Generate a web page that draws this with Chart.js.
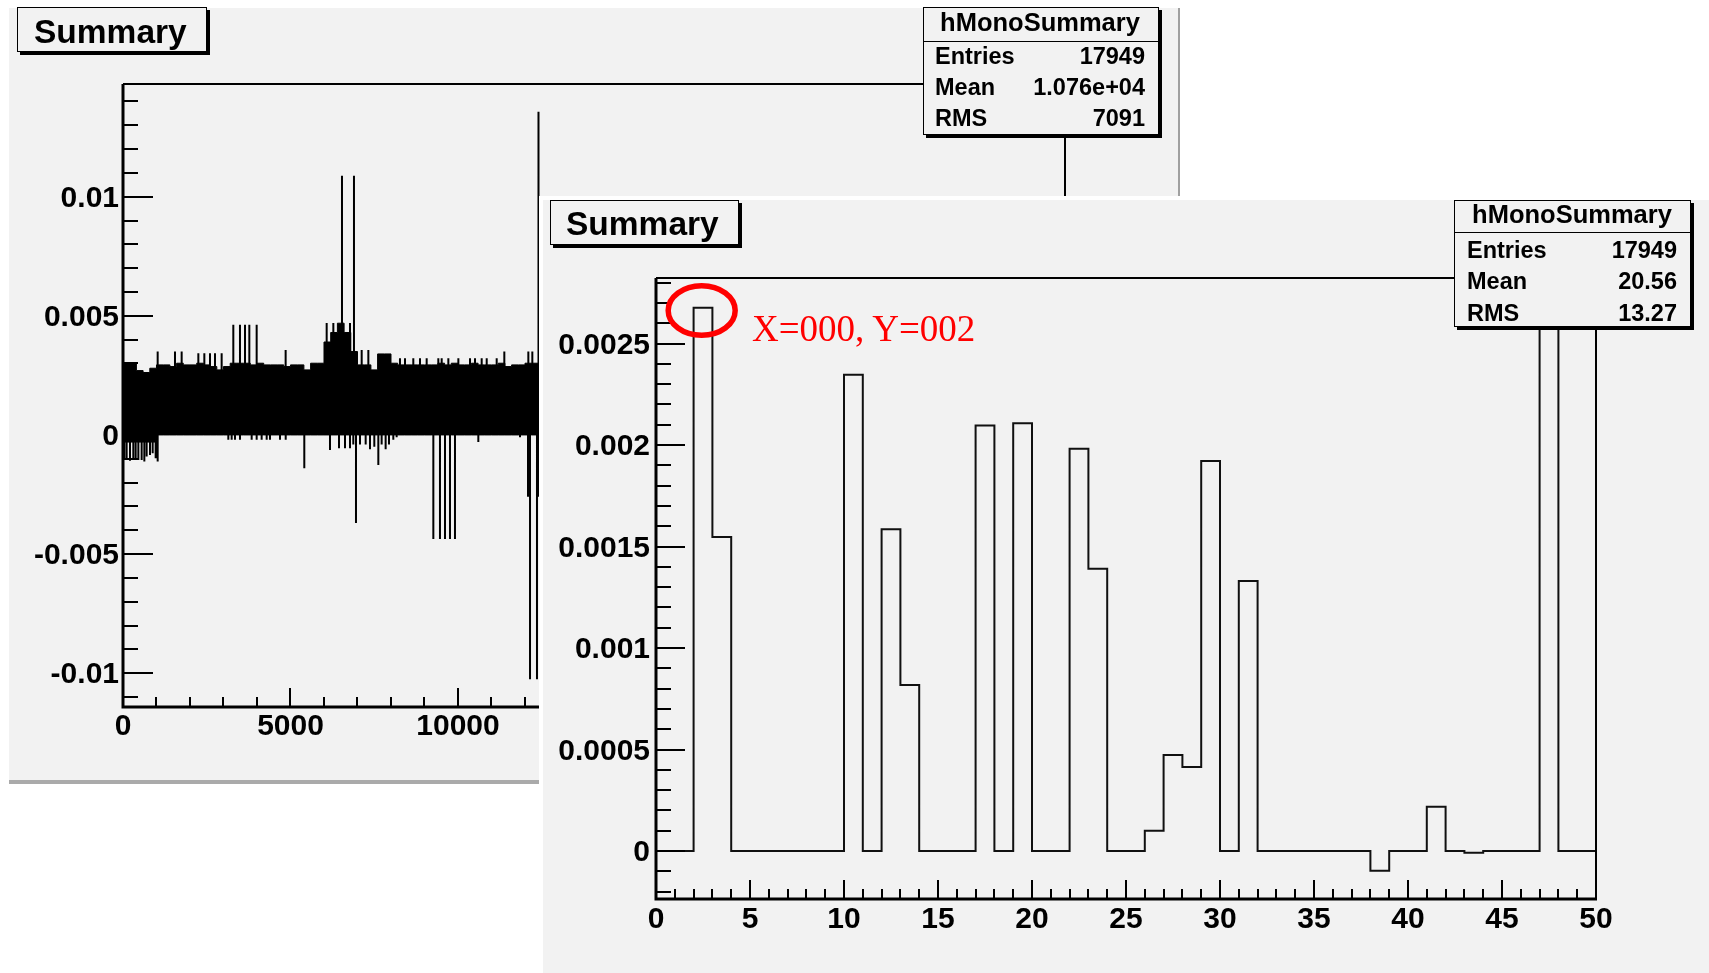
<!DOCTYPE html>
<html>
<head>
<meta charset="utf-8">
<script src="https://cdn.jsdelivr.net/npm/chart.js@4.4.1/dist/chart.umd.min.js"></script>
<style>
html,body{margin:0;padding:0;background:#fff;width:1709px;height:973px;overflow:hidden;}
#page{position:relative;width:1709px;height:973px;}
.pad{position:absolute;background:#f2f2f2;}
.pad canvas{display:block;}
.box{position:absolute;box-sizing:border-box;border:1.5px solid #000;background:#f2f2f2;box-shadow:3px 3px 0 #000;}
.sep{position:absolute;left:0;right:0;height:1.5px;background:#000;}
.t{position:absolute;white-space:nowrap;line-height:1;font-family:"Liberation Sans",Arial,Helvetica,sans-serif;font-weight:bold;color:#000;}
</style>
</head>
<body>
<div id="page">
  <div class="pad" style="left:9px;top:8px;width:1169px;height:772px;border-right:2px solid #a0a0a0;border-bottom:4px solid #aaaaaa;">
    <canvas id="back" width="1169" height="772"></canvas>
  </div>
  <div style="position:absolute;left:539px;top:196px;width:1170px;height:777px;background:#fff;"></div>
  <div class="pad" style="left:543px;top:200px;width:1166px;height:773px;">
    <canvas id="front" width="1166" height="773"></canvas>
  </div>
</div>
<script>
// ================= DATA =================
// --- back panel: hMonoSummary vs channel (dense band, read as an envelope) ---
const backBinWidth = 200;
const backBandTop = [
  0.00301,0.00301,0.00270,0.00262,0.00280,0.00294,0.00294,0.00287,0.00301,0.00294,
  0.00294,0.00301,0.00294,0.00287,0.00273,0.00287,0.00301,0.00301,0.00301,0.00294,
  0.00301,0.00294,0.00294,0.00294,0.00287,0.00294,0.00294,0.00273,0.00301,0.00301,
  0.00390,0.00430,0.00469,0.00430,0.00350,0.00294,0.00294,0.00273,0.00340,0.00340,
  0.00301,0.00294,0.00294,0.00294,0.00294,0.00294,0.00294,0.00301,0.00294,0.00301,
  0.00294,0.00294,0.00301,0.00294,0.00294,0.00294,0.00301,0.00287,0.00294,0.00294,
  0.00301,0.00301
];
const backBandBottom = [
  -0.0003,-0.0003,-0.0003,-0.0003,-0.0003,0,0,0,0,0,
  0,0,0,0,0,0,0,0,0,0,
  0,0,0,0,0,0,0,0,0,0,
  0,0,0,0,0,0,0,0,0,0,
  0,0,0,0,0,0,0,0,0,0,
  0,0,0,0,0,0,0,0,0,0,
  0,0
];
// single-channel spikes (channel, value)
const backSpikeX = [
  1035,1552,1751,2249,2428,2597,2746,2945,4855,7125,7324,11383,12100,12219,
  8268,8418,8666,8866,9065,9413,9513,9712,10011,10359,10508,10707,10857,11155,
  6080,6279,6776,
  3293,3492,3642,3771,3990,6537,6895,12403,
  40,109,209,308,378,458,557,637,706,806,886,975,1035,
  3144,3244,3343,3492,3841,3990,4139,4289,4388,4687,4857,
  5412,
  6179,6448,6627,6776,6875,6955,
  7075,7244,7373,7502,7622,7721,7840,7940,8069,8169,
  9264,9462,9612,9761,9910,
  10607,11851,
  12090,12150,12358,12400
];
const backSpikeY = [
  0.0035,0.0035,0.0035,0.00343,0.00343,0.00343,0.00343,0.00343,0.00357,0.00357,0.00357,0.0035,0.0035,0.0035,
  0.00322,0.00322,0.00322,0.00322,0.00322,0.00322,0.00322,0.00322,0.00322,0.00322,0.00322,0.00322,0.00322,0.00322,
  0.0047,0.0047,0.0047,
  0.00462,0.00462,0.00462,0.00462,0.00462,0.01088,0.01088,0.01357,
  -0.00105,-0.00105,-0.00108,-0.00105,-0.00098,-0.00105,-0.00105,-0.00112,-0.00091,-0.00084,-0.00077,-0.00098,-0.00112,
  -0.0002,-0.0002,-0.0002,-0.0002,-0.0002,-0.0002,-0.0002,-0.0002,-0.0002,-0.0002,-0.0002,
  -0.0014,
  -0.00063,-0.00056,-0.00056,-0.00056,-0.0004,-0.0037,
  -0.0004,-0.0004,-0.0006,-0.0005,-0.00126,-0.0004,-0.0006,-0.0004,-0.0002,-0.0001,
  -0.00437,-0.00437,-0.00437,-0.00437,-0.00437,
  -0.0003,-0.0001,
  -0.0026,-0.01025,-0.01025,-0.0026
];
const backXRange = [0, 28120];
const backYRange = [-0.01142, 0.01473];
const backXTicks = [0, 5000, 10000];
const backXTickLabels = ['0', '5000', '10000'];
const backYTicks = [-0.01, -0.005, 0, 0.005, 0.01];
const backYTickLabels = ['-0.01', '-0.005', '0', '0.005', '0.01'];

// --- front panel: hMonoSummary, 50 bins 0..50 ---
const frontBins = [0,1,2,3,4,5,6,7,8,9,10,11,12,13,14,15,16,17,18,19,20,21,22,23,24,
                   25,26,27,28,29,30,31,32,33,34,35,36,37,38,39,40,41,42,43,44,45,46,47,48,49];
const frontValues = [
  0, 0, 0.002677, 0.001547, 0, 0, 0, 0, 0, 0,
  0.002347, 0, 0.001585, 0.000818, 0, 0, 0, 0.002097, 0, 0.002108,
  0, 0, 0.001982, 0.001391, 0, 0, 0.0001, 0.000473, 0.000414, 0.001921,
  0, 0.00133, 0, 0, 0, 0, 0, 0, -0.0000967, 0,
  0, 0.000218, 0, -0.0000083, 0, 0, 0, 0.0045, 0, 0
];
const frontXRange = [0, 50];
const frontYRange = [-0.000236, 0.002823];
const frontXTicks = [0,5,10,15,20,25,30,35,40,45,50];
const frontXTickLabels = ['0','5','10','15','20','25','30','35','40','45','50'];
const frontYTicks = [0, 0.0005, 0.001, 0.0015, 0.002, 0.0025];
const frontYTickLabels = ['0','0.0005','0.001','0.0015','0.002','0.0025'];

// --- texts ---
const titleText = 'Summary';
const statsTitle = 'hMonoSummary';
const statsLabels = ['Entries', 'Mean', 'RMS'];
const backStatsValues = ['17949', '1.076e+04', '7091'];
const frontStatsValues = ['17949', '20.56', '13.27'];
const annotationText = 'X=000, Y=002';
const annotationPoint = {x: 2.43, y: 0.002663};

// ================= HELPERS =================
const FONT = '"Liberation Sans", Arial, Helvetica, sans-serif';

function rootAxes(cfg) {
  return {
    id: 'rootAxes',
    afterDatasetsDraw(chart) {
      const {ctx, chartArea: a, scales: {x, y}} = chart;
      ctx.save();
      ctx.strokeStyle = '#000';
      ctx.lineCap = 'butt';
      ctx.lineWidth = 2;
      ctx.beginPath();
      ctx.moveTo(a.left, a.top); ctx.lineTo(a.right, a.top); ctx.lineTo(a.right, a.bottom);
      ctx.stroke();
      const isMult = (v, s) => Math.abs(v / s - Math.round(v / s)) < 1e-6;
      ctx.lineWidth = 2;
      ctx.beginPath();
      let i0 = Math.ceil(y.min / cfg.yMinor - 1e-9), i1 = Math.floor(y.max / cfg.yMinor + 1e-9);
      for (let i = i0; i <= i1; i++) {
        const v = i * cfg.yMinor;
        const p = Math.round(y.getPixelForValue(v));
        const len = isMult(v, cfg.yMajor) ? cfg.yMajorLen : cfg.yMinorLen;
        ctx.moveTo(a.left, p); ctx.lineTo(a.left + len, p);
      }
      i0 = Math.ceil(x.min / cfg.xMinor - 1e-9); i1 = Math.floor(x.max / cfg.xMinor + 1e-9);
      for (let i = i0; i <= i1; i++) {
        const v = i * cfg.xMinor;
        const p = Math.round(x.getPixelForValue(v));
        const len = isMult(v, cfg.xMajor) ? cfg.xMajorLen : cfg.xMinorLen;
        ctx.moveTo(p, a.bottom); ctx.lineTo(p, a.bottom - len);
      }
      ctx.stroke();
      ctx.lineWidth = 3;
      ctx.beginPath();
      ctx.moveTo(a.left, a.top); ctx.lineTo(a.left, a.bottom + 1.5);
      ctx.moveTo(a.left - 1.5, a.bottom); ctx.lineTo(a.right + 1, a.bottom);
      ctx.stroke();
      ctx.restore();
    }
  };
}

function scaleOpts(range, ticks, labels, fitProp, fitVal, pad, offset) {
  return {
    type: 'linear', min: range[0], max: range[1],
    afterBuildTicks: s => { s.ticks = ticks.map(v => ({value: v})); },
    afterFit: s => { s[fitProp] = fitVal; },
    grid: {display: false, drawTicks: false},
    border: {display: false},
    ticks: {
      autoSkip: false, maxRotation: 0, minRotation: 0, padding: pad, labelOffset: offset || 0,
      color: '#000', font: {family: FONT, size: 30, weight: 'bold'},
      callback: (v, i) => labels[i]
    }
  };
}

// ================= BACK CHART =================
const bandTopPts = backBandTop.map((v, k) => ({x: k * backBinWidth, y: v}));
bandTopPts.push({x: backBandTop.length * backBinWidth, y: backBandTop[backBandTop.length - 1]});
const bandBotPts = backBandBottom.map((v, k) => ({x: k * backBinWidth, y: v}));
bandBotPts.push({x: backBandBottom.length * backBinWidth, y: backBandBottom[backBandBottom.length - 1]});
const spikeOrder = backSpikeX.map((x, i) => i).sort((a, b) => backSpikeX[a] - backSpikeX[b]);
const spikePts = [];
spikeOrder.forEach(i => {
  spikePts.push({x: backSpikeX[i], y: 0}, {x: backSpikeX[i], y: backSpikeY[i]}, {x: backSpikeX[i], y: null});
});

new Chart(document.getElementById('back'), {
  type: 'line',
  data: {
    datasets: [
      {data: bandTopPts, stepped: 'before', borderColor: '#000', backgroundColor: '#000',
       borderWidth: 1, pointRadius: 0, fill: '+1'},
      {data: bandBotPts, stepped: 'before', borderColor: '#000', backgroundColor: '#000',
       borderWidth: 1, pointRadius: 0, fill: false},
      {data: spikePts, borderColor: '#000', borderWidth: 2, pointRadius: 0, spanGaps: false, fill: false}
    ]
  },
  options: {
    responsive: false, animation: false, devicePixelRatio: 1,
    layout: {padding: {top: 76, right: 113, left: 0, bottom: 0}},
    plugins: {legend: {display: false}, tooltip: {enabled: false}},
    scales: {
      x: scaleOpts(backXRange, backXTicks, backXTickLabels, 'height', 73, 2),
      y: scaleOpts(backYRange, backYTicks, backYTickLabels, 'width', 114, 4, 2)
    }
  },
  plugins: [rootAxes({xMinor: 1000, xMajor: 5000, yMinor: 0.001, yMajor: 0.005,
                      xMajorLen: 19, xMinorLen: 10, yMajorLen: 30, yMinorLen: 15})]
});

// ================= FRONT CHART =================
const histPts = frontBins.map((b, i) => ({x: b, y: frontValues[i]}));
histPts.push({x: frontBins[frontBins.length - 1] + 1, y: frontValues[frontValues.length - 1]});

const annotPlugin = {
  id: 'annot',
  afterDraw(chart) {
    const {ctx, scales: {x, y}} = chart;
    const cx = x.getPixelForValue(annotationPoint.x);
    const cy = y.getPixelForValue(annotationPoint.y);
    ctx.save();
    ctx.strokeStyle = '#ff0000';
    ctx.lineWidth = 5.5;
    ctx.beginPath();
    ctx.ellipse(cx, cy, 33.5, 24.8, 0, 0, Math.PI * 2);
    ctx.stroke();
    ctx.restore();
  }
};

new Chart(document.getElementById('front'), {
  type: 'line',
  data: {
    datasets: [
      {data: histPts, stepped: 'before', borderColor: '#111', borderWidth: 2, pointRadius: 0, fill: false}
    ]
  },
  options: {
    responsive: false, animation: false, devicePixelRatio: 1,
    layout: {padding: {top: 78, right: 113, left: 0, bottom: 0}},
    plugins: {legend: {display: false}, tooltip: {enabled: false}},
    scales: {
      x: scaleOpts(frontXRange, frontXTicks, frontXTickLabels, 'height', 74, 3),
      y: scaleOpts(frontYRange, frontYTicks, frontYTickLabels, 'width', 113, 6, 2)
    }
  },
  plugins: [rootAxes({xMinor: 1, xMajor: 5, yMinor: 0.0001, yMajor: 0.0005,
                      xMajorLen: 19, xMinorLen: 10, yMajorLen: 29, yMinorLen: 15}), annotPlugin]
});

// ================= BOXES & TEXT =================
const page = document.getElementById('page');
function addText(str, x, base, size, align, extra, ascentRatio) {
  const el = document.createElement('div');
  el.className = 't';
  el.textContent = str;
  el.style.fontSize = size + 'px';
  el.style.top = (base - (ascentRatio || 0.8465) * size) + 'px';
  const W = 600;
  if (align === 'left') { el.style.left = x + 'px'; }
  else if (align === 'right') { el.style.left = (x - W) + 'px'; el.style.width = W + 'px'; el.style.textAlign = 'right'; }
  else { el.style.left = (x - W / 2) + 'px'; el.style.width = W + 'px'; el.style.textAlign = 'center'; }
  if (extra) Object.assign(el.style, extra);
  page.appendChild(el);
  return el;
}
function addBox(l, t, w, h, sepY) {
  const b = document.createElement('div');
  b.className = 'box';
  Object.assign(b.style, {left: l + 'px', top: t + 'px', width: w + 'px', height: h + 'px'});
  if (sepY !== undefined) {
    const s = document.createElement('div');
    s.className = 'sep';
    s.style.top = (sepY - t - 1.5) + 'px';
    b.appendChild(s);
  }
  page.appendChild(b);
  return b;
}
function statsBox(l, t, w, h, sepY, headX, headBase, labX, valX, rowBases, values) {
  addBox(l, t, w, h, sepY);
  addText(statsTitle, headX, headBase, 25.5, 'center');
  statsLabels.forEach((lab, i) => {
    addText(lab, labX, rowBases[i], 23.5, 'left');
    addText(values[i], valX, rowBases[i], 23.5, 'right');
  });
}

// back panel
addBox(17, 7, 190, 45);
addText(titleText, 34, 43.3, 33.5, 'left');
statsBox(923, 7, 236, 128, 41, 1040, 32, 935, 1145, [65, 95.7, 126.7], backStatsValues);

// front panel
addBox(550, 200, 189, 45);
addText(titleText, 566, 235, 33.5, 'left');
statsBox(1454, 200, 237, 127, 232.3, 1572, 224, 1467, 1677, [259, 290, 321.7], frontStatsValues);
addText(annotationText, 752, 340.7, 37, 'left',
  {fontFamily: '"Liberation Serif", "Times New Roman", serif', fontWeight: 'normal', color: '#ff0000'}, 0.8375);
</script>
</body>
</html>
